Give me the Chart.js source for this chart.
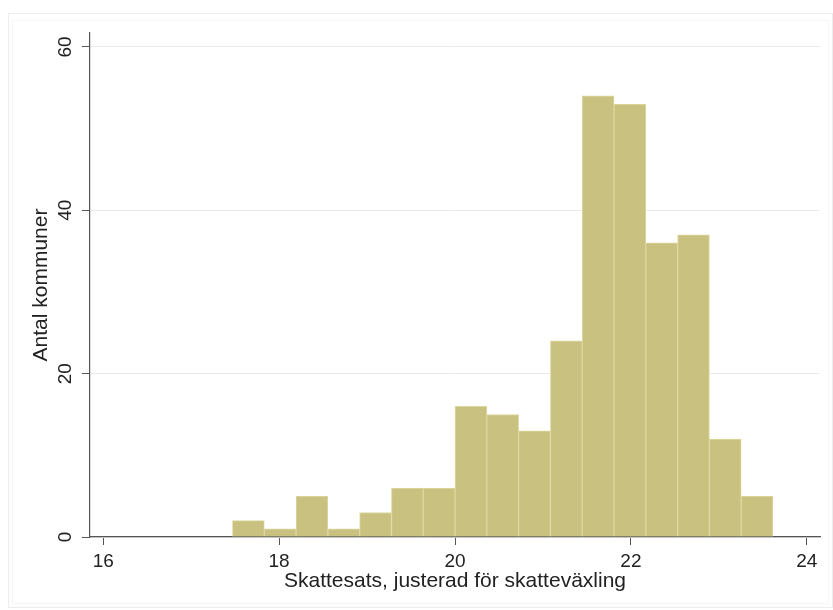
<!DOCTYPE html>
<html>
<head>
<meta charset="utf-8">
<script src="https://cdn.jsdelivr.net/npm/chart.js@4.4.1/dist/chart.umd.min.js"></script>
<style>
  html, body { margin: 0; padding: 0; background: #ffffff; }
  #wrap { position: relative; width: 833px; height: 610px; }
</style>
</head>
<body>
<div id="wrap"><canvas id="c" width="833" height="610"></canvas></div>
<script>
// ---- data ----
const binStart = 17.47;      // left edge of first bin
const binWidth = 0.3615;     // width of each bin
const counts = [2, 1, 5, 1, 3, 6, 6, 16, 15, 13, 24, 54, 53, 36, 37, 12, 5];
const xTicks = [16, 18, 20, 22, 24];
const yTicks = [0, 20, 40, 60];
const xTitle = 'Skattesats, justerad för skatteväxling';
const yTitle = 'Antal kommuner';

const points = counts.map((c, i) => ({ x: binStart + binWidth * (i + 0.5), y: c }));

const FONT = "'Liberation Sans', Arial, sans-serif";
const axisColor = '#555555';
const textColor = '#222222';

const framePlugin = {
  id: 'frame',
  beforeDraw(chart) {
    const ctx = chart.ctx;
    ctx.save();
    ctx.fillStyle = '#ffffff';
    ctx.fillRect(0, 0, chart.width, chart.height);
    ctx.strokeStyle = '#ededed';
    ctx.lineWidth = 1;
    ctx.strokeRect(8.5, 13.5, chart.width - 9, chart.height - 16);
    ctx.strokeStyle = '#f7f7f7';
    ctx.strokeRect(12.5, 20.5, chart.width - 17, chart.height - 27);
    ctx.restore();
  }
};

new Chart(document.getElementById('c'), {
  type: 'bar',
  data: {
    datasets: [{
      data: points,
      backgroundColor: '#c9c17f',
      borderColor: '#ded7a2',
      borderWidth: 1,
      barPercentage: 1,
      categoryPercentage: 1
    }]
  },
  options: {
    responsive: false,
    animation: false,
    devicePixelRatio: 1,
    layout: { padding: { left: 0, right: 13, top: 33, bottom: 0 } },
    plugins: { legend: { display: false }, tooltip: { enabled: false } },
    scales: {
      x: {
        type: 'linear',
        min: 15.85,
        max: 24.15,
        offset: false,
        afterBuildTicks: s => { s.ticks = xTicks.map(v => ({ value: v })); },
        afterFit: s => { s.height = 73; },
        grid: { offset: false, drawOnChartArea: false, drawTicks: true, tickLength: 8, tickColor: axisColor, tickWidth: 1 },
        border: { display: true, color: axisColor, width: 1.2 },
        ticks: { autoSkip: false, maxRotation: 0, padding: 5, color: textColor, font: { family: FONT, size: 19 } },
        title: { display: true, text: xTitle, color: textColor, font: { family: FONT, size: 21 }, padding: { top: 0, bottom: 16 } }
      },
      y: {
        type: 'linear',
        min: 0,
        max: 61.7,
        afterBuildTicks: s => { s.ticks = yTicks.map(v => ({ value: v })); },
        afterFit: s => { s.width = 90; },
        grid: { color: '#ebebeb', lineWidth: 1, drawTicks: true, tickLength: 8, tickColor: axisColor, tickWidth: 1 },
        border: { display: true, color: axisColor, width: 1.2 },
        ticks: { minRotation: 90, maxRotation: 90, crossAlign: 'center', padding: 6, color: textColor, font: { family: FONT, size: 19 } },
        title: { display: true, text: yTitle, color: textColor, font: { family: FONT, size: 21 }, padding: { top: 29, bottom: 0 } }
      }
    }
  },
  plugins: [framePlugin]
});
</script>
</body>
</html>
